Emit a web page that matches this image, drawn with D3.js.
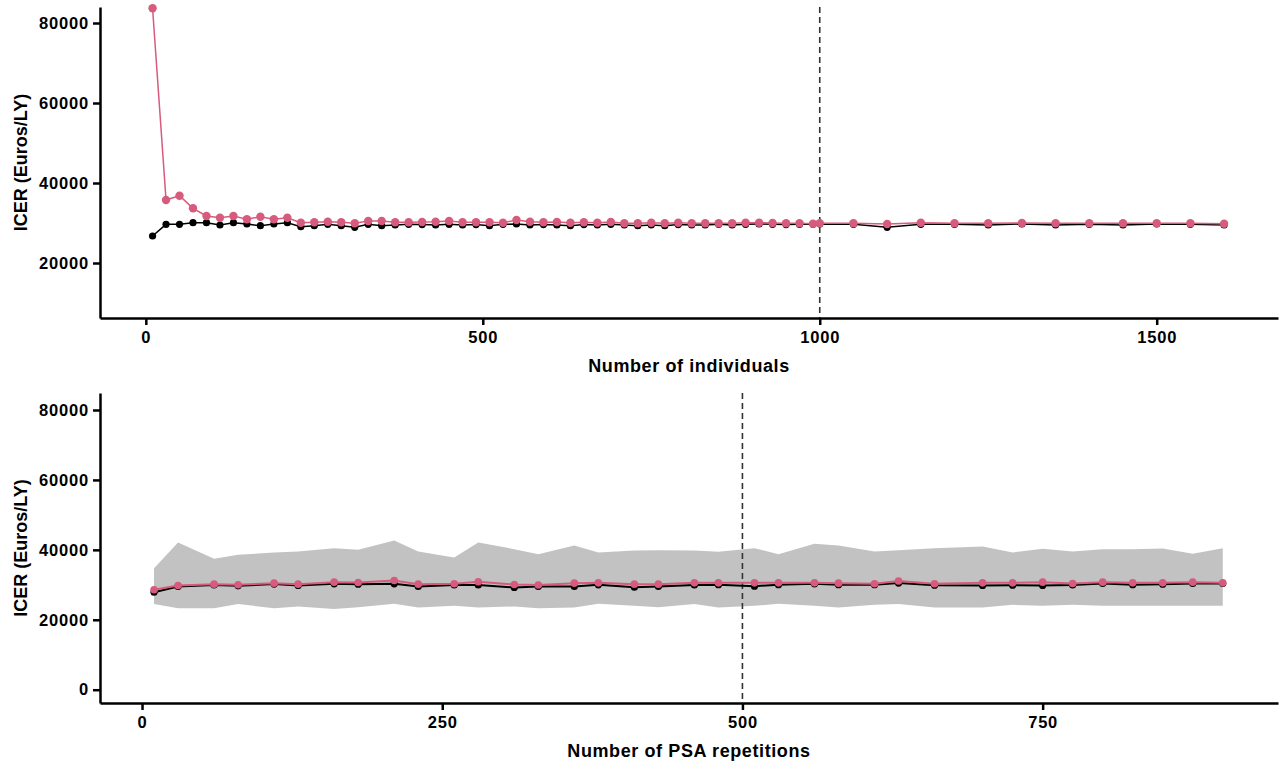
<!DOCTYPE html>
<html>
<head>
<meta charset="utf-8">
<script src="https://cdn.jsdelivr.net/npm/d3@7"></script>
<style>
  body { margin: 0; background: #fff; }
  svg { font-family: "Liberation Sans", Arial, sans-serif; }
  .axis text { font-size: 16.5px; font-weight: bold; fill: #000; letter-spacing: 0.8px; }
  .axis path, .axis line { stroke: #000; stroke-width: 2.5px; }
  .title { font-size: 18px; font-weight: bold; }
</style>
</head>
<body>
<script>
// SVG size
const width = 1279;
const height = 765;

// Top panel data: number of individuals
const indivX = [10, 30, 50, 70, 90, 110, 130, 150, 170, 190, 210, 230, 250, 270, 290, 310, 330, 350, 370, 390,
  410, 430, 450, 470, 490, 510, 530, 550, 570, 590, 610, 630, 650, 670, 690, 710, 730, 750, 770, 790,
  810, 830, 850, 870, 890, 910, 930, 950, 970, 990, 1000, 1050, 1100, 1150, 1200, 1250, 1300, 1350,
  1400, 1450, 1500, 1550, 1600];
const indivPink = [83700, 35750, 36830, 33670, 31750, 31330, 31750, 30920, 31580, 30920, 31330, 30080, 30170, 30330, 30170, 29920, 30500, 30500, 30170, 30170,
  30250, 30330, 30500, 30170, 30170, 30170, 30080, 30750, 30330, 30170, 30250, 30080, 30170, 30080, 30250, 29920, 29920, 30080, 29920, 30080,
  29920, 29920, 29920, 29920, 30080, 30080, 30000, 29920, 29920, 29830, 29920, 29920, 29750, 30080, 29920, 29920, 30000, 29920,
  29920, 29920, 29920, 29920, 29830];
const indivBlack = [26750, 29670, 29670, 30080, 30080, 29500, 30080, 29750, 29330, 29750, 30080, 29080, 29330, 29670, 29330, 28920, 29670, 29330, 29500, 29670,
  29600, 29500, 29670, 29500, 29600, 29330, 29670, 29750, 29500, 29600, 29500, 29330, 29600, 29500, 29670, 29500, 29330, 29500, 29330, 29600,
  29500, 29500, 29670, 29500, 29670, 29750, 29670, 29600, 29670, 29670, 29750, 29670, 28920, 29670, 29670, 29500, 29750, 29500,
  29670, 29500, 29750, 29670, 29500];

// Bottom panel data: number of PSA repetitions
const psaX = [10, 30, 60, 80, 110, 130, 160, 180, 210, 230, 260, 280, 310, 330, 360, 380, 410, 430, 460, 480,
  510, 530, 560, 580, 610, 630, 660, 700, 725, 750, 775, 800, 825, 850, 875, 900];
const psaPink = [28570, 29800, 30190, 30000, 30480, 30190, 30760, 30670, 31240, 30190, 30290, 30860, 30100, 29950, 30480, 30570, 30190, 30190, 30570, 30570,
  30570, 30570, 30570, 30480, 30290, 31100, 30290, 30570, 30570, 30760, 30380, 30760, 30570, 30570, 30760, 30570];
const psaBlack = [27900, 29520, 29950, 29710, 30200, 29800, 30290, 30190, 30290, 29520, 29950, 29950, 29250, 29520, 29520, 30000, 29300, 29520, 29950, 30050,
  29620, 30050, 30290, 30050, 30050, 30500, 29900, 29800, 29900, 29800, 29950, 30380, 30050, 30190, 30380, 30380];
const psaUpper = [34770, 42090, 37430, 38570, 39230, 39520, 40480, 40000, 42670, 39520, 37810, 42090, 40200, 38760, 41240, 39240, 39810, 39900, 39810, 39430,
  40480, 38760, 41710, 41240, 39520, 39900, 40480, 40950, 39240, 40290, 39520, 40190, 40190, 40380, 38860, 40480];
const psaLower = [24480, 23330, 23330, 24480, 23330, 23810, 23050, 23620, 24580, 23520, 24000, 23520, 23810, 23330, 23520, 24570, 24000, 23620, 24480, 23520,
  24000, 24570, 24000, 23520, 24290, 24480, 23520, 23520, 24290, 24000, 24290, 24000, 24000, 24000, 24000, 24000];

const yTicks = [20000, 40000, 60000, 80000];
const yTicksBottom = [0, 20000, 40000, 60000, 80000];

const pink = "#d65b7d";
const band = "#c2c2c2";

const svg = d3.select("body").append("svg")
  .attr("width", width)
  .attr("height", height);

// draws one panel
function drawPanel(opts) {
  const x = d3.scaleLinear().domain(opts.xDomain).range([100, 1278]);
  const y = d3.scaleLinear().domain(opts.yDomain).range([opts.bottom, opts.top]);
  const g = svg.append("g");

  // grey range band
  if (opts.upper) {
    const area = d3.area()
      .x((d, i) => x(opts.xs[i]))
      .y0((d, i) => y(opts.lower[i]))
      .y1(d => y(d));
    g.append("path")
      .datum(opts.upper)
      .attr("d", area)
      .attr("fill", band);
  }

  // dashed reference line
  g.append("line")
    .attr("x1", x(opts.refX)).attr("x2", x(opts.refX))
    .attr("y1", opts.top).attr("y2", opts.bottom)
    .attr("stroke", "#333")
    .attr("stroke-width", 1.6)
    .attr("stroke-dasharray", "6,4");

  const line = d3.line()
    .x((d, i) => x(opts.xs[i]))
    .y(d => y(d));

  // black series
  g.append("path")
    .datum(opts.black)
    .attr("d", line)
    .attr("fill", "none")
    .attr("stroke", "#000")
    .attr("stroke-width", opts.lw);
  g.selectAll(".dotb")
    .data(opts.black)
    .enter()
    .append("circle")
    .attr("cx", (d, i) => x(opts.xs[i]))
    .attr("cy", d => y(d))
    .attr("r", 3.6)
    .attr("fill", "#000");

  // pink series
  g.append("path")
    .datum(opts.pink)
    .attr("d", line)
    .attr("fill", "none")
    .attr("stroke", pink)
    .attr("stroke-width", opts.lw);
  g.selectAll(".dotp")
    .data(opts.pink)
    .enter()
    .append("circle")
    .attr("cx", (d, i) => x(opts.xs[i]))
    .attr("cy", d => y(d))
    .attr("r", opts.pr)
    .attr("fill", pink);

  // axes
  g.append("g")
    .attr("class", "axis")
    .attr("transform", `translate(0,${opts.bottom})`)
    .call(d3.axisBottom(x).tickValues(opts.xTicks).tickFormat(d3.format("d")).tickSize(7).tickSizeOuter(0).tickPadding(6));
  g.append("g")
    .attr("class", "axis")
    .attr("transform", "translate(100,0)")
    .call(d3.axisLeft(y).tickValues(opts.yTicks).tickFormat(d3.format("d")).tickSize(7).tickSizeOuter(0).tickPadding(4));

  // titles
  g.append("text")
    .attr("class", "title")
    .attr("x", 689)
    .attr("y", opts.bottom + 54)
    .attr("text-anchor", "middle")
    .style("letter-spacing", "0.6px")
    .text(opts.xLabel);
  g.append("text")
    .attr("class", "title")
    .attr("transform", `translate(27,${(opts.top + opts.bottom) / 2}) rotate(-90)`)
    .attr("text-anchor", "middle")
    .text("ICER (Euros/LY)");
}

drawPanel({
  xDomain: [-68, 1680], yDomain: [6250, 84000], top: 7, bottom: 318,
  xs: indivX, pink: indivPink, black: indivBlack,
  xTicks: [0, 500, 1000, 1500], yTicks: yTicks, refX: 1000,
  lw: 1.5, pr: 4.2, xLabel: "Number of individuals"
});

drawPanel({
  xDomain: [-35, 946], yDomain: [-3800, 84860], top: 393, bottom: 703,
  xs: psaX, pink: psaPink, black: psaBlack, upper: psaUpper, lower: psaLower,
  xTicks: [0, 250, 500, 750], yTicks: yTicksBottom, refX: 500,
  lw: 2, pr: 3.8, xLabel: "Number of PSA repetitions"
});
</script>
</body>
</html>
